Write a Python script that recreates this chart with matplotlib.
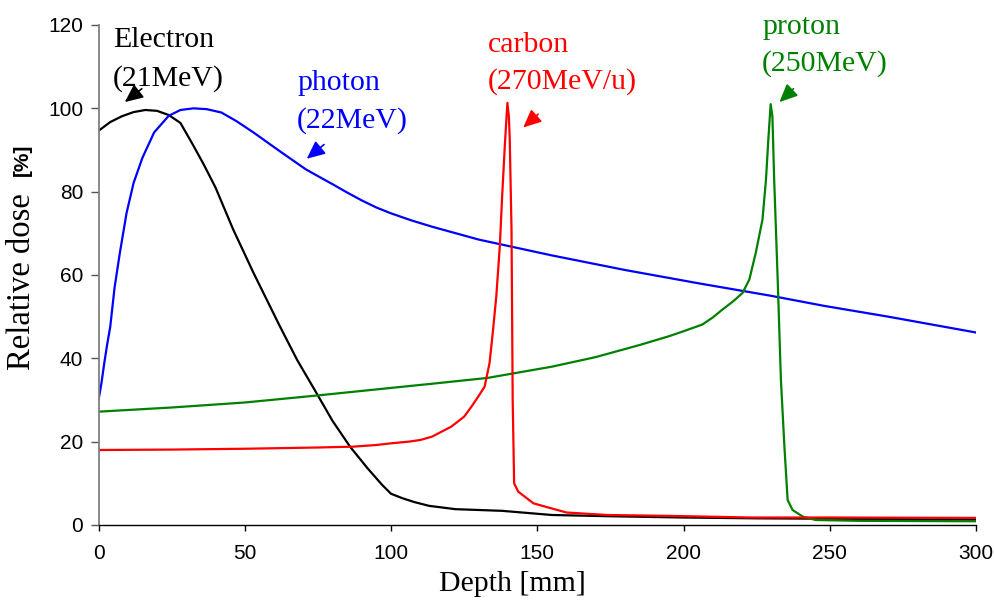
import matplotlib
matplotlib.use("Agg")
import matplotlib.pyplot as plt

# Depth-dose curves (depth in mm, relative dose in %)
electron_depth = [0, 4, 8, 12, 16, 20, 24, 28, 32, 36, 40, 46, 53, 62, 68, 75, 80, 86,
                  92, 97, 100, 104, 108, 113, 122, 138, 155, 175, 200, 225, 250, 275, 300]
electron_dose = [94.6, 96.7, 98.1, 99.1, 99.6, 99.4, 98.4, 96.5, 91.6, 86.5, 81.0, 71.0,
                 60.5, 47.7, 39.5, 31.1, 25.0, 18.8, 13.6, 9.6, 7.5, 6.4, 5.5, 4.6, 3.8,
                 3.4, 2.4, 2.1, 1.8, 1.6, 1.5, 1.4, 1.3]

photon_depth = [0, 1, 2, 3, 4, 5.5, 7.3, 9.6, 12, 15, 19, 24, 28, 32.5, 37, 42, 47, 53,
                62, 71, 80, 85, 90, 95, 100, 107, 114, 130, 155, 180, 206, 230, 248, 270,
                300]
photon_dose = [30, 34, 39, 43.5, 47.5, 57, 65.3, 74.9, 82.1, 88.1, 94.2, 98.2, 99.6,
               100, 99.8, 99, 97, 94.2, 89.7, 85.3, 81.8, 79.8, 77.9, 76.2, 74.8, 73.1,
               71.6, 68.5, 64.7, 61.2, 57.9, 55, 52.6, 50, 46.2]

carbon_depth = [0, 25, 50, 75, 87, 95, 100, 106, 110, 114, 120.6, 125, 127.5, 130, 132,
                133.7, 134.9, 136, 137.2, 138, 138.9, 139.5, 139.8, 140.3, 140.6, 141.2,
                141.4, 141.6, 142.1, 143.5, 148.7, 153.8, 160, 174, 194, 223, 250, 300]
carbon_dose = [18.0, 18.1, 18.3, 18.6, 18.8, 19.2, 19.6, 20.0, 20.4, 21.2, 23.6, 26,
               28.4, 31, 33.2, 38.9, 46.9, 54.9, 66.9, 78.9, 90.9, 98, 101.3, 98, 92.5,
               70.9, 51, 30, 10, 8, 5.2, 4.2, 3.0, 2.4, 2.2, 1.8, 1.8, 1.7]

proton_depth = [0, 25, 50, 75, 100, 114, 133, 155, 170, 185, 195, 200, 206.4, 210,
                213.3, 217, 220.2, 222.5, 224.7, 227, 228.2, 229, 229.8, 230.4, 231,
                232.2, 233.3, 234.5, 235.6, 237.3, 240.8, 245.2, 260, 300]
proton_dose = [27.2, 28.2, 29.4, 31.1, 32.9, 33.9, 35.3, 38.0, 40.3, 43.2, 45.3, 46.5,
               48.1, 49.8, 51.7, 53.7, 55.7, 58.9, 65.3, 73.3, 82.9, 92.5, 101, 98,
               82.9, 58.9, 34.9, 18.8, 6, 3.6, 2.0, 1.2, 1.0, 0.9]

x_ticks = [0, 50, 100, 150, 200, 250, 300]
y_ticks = [0, 20, 40, 60, 80, 100, 120]

SERIF = "Liberation Serif"
SANS = "Liberation Sans"

fig = plt.figure(figsize=(9.94, 6.0), dpi=100)
ax = fig.add_axes([98.5 / 994, 75 / 600, (976 - 98.5) / 994, 500 / 600])

lw = 1.6
ax.plot(electron_depth, electron_dose, color="black", lw=lw)
ax.plot(photon_depth, photon_dose, color="#0000ff", lw=lw)
ax.plot(proton_depth, proton_dose, color="#008000", lw=lw)
ax.plot(carbon_depth, carbon_dose, color="#ff0000", lw=lw)

ax.set_xlim(0, 300)
ax.set_ylim(0, 120)
ax.set_xticks(x_ticks)
ax.set_yticks(y_ticks)
ax.set_xticklabels([str(v) for v in x_ticks], fontfamily=SANS, fontsize=15)
ax.set_yticklabels([str(v) for v in y_ticks], fontfamily=SANS, fontsize=15)
ax.tick_params(axis="x", direction="out", length=4, width=1, pad=10, colors="black")
ax.tick_params(axis="y", direction="out", length=6, width=1, pad=5, color="#555555",
               labelcolor="black")

for side in ("top", "right"):
    ax.spines[side].set_visible(False)
ax.spines["left"].set_color("#808080")
ax.spines["left"].set_linewidth(1.3)
ax.spines["bottom"].set_color("black")
ax.spines["bottom"].set_linewidth(1.0)

# Beam labels with small arrows pointing at each curve
labels = [
    ("Electron", "(21MeV)", "black", 5.0, 114.7, 105.5, (9.0, 101.5), (14.8, 104.7)),
    ("photon", "(22MeV)", "#0000ff", 67.9, 104.3, 95.4, (71.2, 87.9), (77.1, 91.3)),
    ("carbon", "(270MeV/u)", "#ff0000", 133.2, 113.5, 104.8, (145.2, 95.4), (150.3, 98.6)),
    ("proton", "(250MeV)", "#008000", 226.9, 117.8, 109.1, (232.8, 101.5), (237.6, 104.7)),
]
for name, energy, col, tx, y1, y2, tip, tail in labels:
    ax.text(tx, y1, name, color=col, fontfamily=SERIF, fontsize=21.5,
            va="baseline", ha="left", clip_on=False)
    ax.text(tx, y2, energy, color=col, fontfamily=SERIF, fontsize=21.5,
            va="baseline", ha="left", clip_on=False)
    ax.annotate("", xy=tip, xytext=tail,
                arrowprops=dict(arrowstyle="-|>,head_length=0.55,head_width=0.25",
                                mutation_scale=20, color=col, lw=1.2,
                                shrinkA=0, shrinkB=0),
                annotation_clip=False)

# Axis titles
fig.text(512.5 / 994, 1 - 591 / 600, "Depth [mm]", fontfamily=SERIF, fontsize=21.5,
         ha="center", va="baseline")
fig.text(22 / 994, 1 - 370 / 600, "Relative dose", fontfamily=SERIF, fontsize=23.5,
         rotation=90, ha="center", va="bottom")
fig.text(22 / 994, 1 - 176 / 600, "[%]", fontfamily=SANS, fontweight="bold",
         fontsize=15, rotation=90, ha="center", va="bottom")

fig.savefig("out.png", dpi=100)
